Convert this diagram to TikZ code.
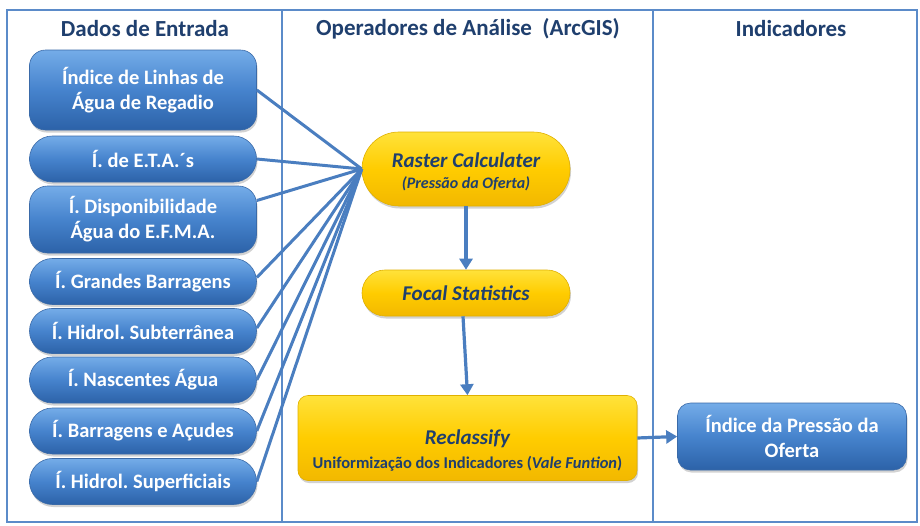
\documentclass[tikz,border=0pt]{standalone}
\usepackage{fontspec}
\setmainfont{Carlito}
\frenchspacing
\usetikzlibrary{shadows,arrows.meta}
\definecolor{frameblue}{HTML}{5B8BC9}
\definecolor{linkblue}{HTML}{4A7EC0}
\definecolor{navy}{HTML}{1F3F6E}
\definecolor{btop}{HTML}{74ACE8}
\definecolor{bmid}{HTML}{4683CD}
\definecolor{bbot}{HTML}{2C62A8}
\definecolor{bdraw}{HTML}{3A6AA8}
\definecolor{ytop}{HTML}{FFE23A}
\definecolor{ymid}{HTML}{FFCC00}
\definecolor{ybot}{HTML}{F2B800}
\definecolor{ydraw}{HTML}{E0B000}
\tikzset{
  inbox/.style={draw=bdraw, line width=0.6pt, top color=btop, bottom color=bbot, middle color=bmid,
    text=white, font=\bfseries\fontsize{20.5}{25}\selectfont, align=center, inner sep=0pt,
    minimum width=227pt, drop shadow={shadow xshift=1pt, shadow yshift=-2.5pt, opacity=0.35}},
  opbox/.style={draw=ydraw, line width=0.6pt, top color=ytop, bottom color=ybot, middle color=ymid,
    text=navy, align=center, inner sep=0pt, minimum width=208pt,
    drop shadow={shadow xshift=1pt, shadow yshift=-2.5pt, opacity=0.35}},
  optext/.style={text=navy, inner sep=0pt},
  header/.style={text=navy, font=\bfseries\fontsize{23}{27}\selectfont},
  link/.style={draw=linkblue, line width=3pt},
  flow/.style={draw=linkblue, line width=3.2pt, -{Triangle[length=11pt,width=13pt]}},
  framel/.style={draw=frameblue, line width=1.4pt}
}
\begin{document}
\begin{tikzpicture}[x=1pt,y=-1pt]
\useasboundingbox (0,0) rectangle (920,525);
\fill[white] (0,0) rectangle (920,525);
% frame
\draw[framel] (7,10) rectangle (917,522);
\draw[framel] (282,10) -- (282,522);
\draw[framel] (653,10) -- (653,522);
% headers
\node[header] (h1) at (145,29) {Dados de Entrada};
\node[header] (h2) at (468,29) {Operadores de Análise\ \ (ArcGIS)};
\node[header] (h3) at (791,29) {Indicadores};
% input boxes
\node[inbox, minimum height=80pt, rounded corners=16pt] (b1) at (143,90) {Índice de Linhas de\\Água de Regadio};
\node[inbox, minimum height=46pt, rounded corners=22.9pt] (b2) at (143,159) {Í. de E.T.A.´s};
\node[inbox, minimum height=67pt, rounded corners=18pt] (b3) at (143,219.5) {Í. Disponibilidade\\Água do E.F.M.A.};
\node[inbox, minimum height=46pt, rounded corners=22.9pt] (b4) at (143,281.5) {Í. Grandes Barragens};
\node[inbox, minimum height=45pt, rounded corners=22.4pt] (b5) at (143,331) {Í. Hidrol. Subterrânea};
\node[inbox, minimum height=46pt, rounded corners=22.9pt] (b6) at (143,380) {Í. Nascentes Água};
\node[inbox, minimum height=46pt, rounded corners=22.9pt] (b7) at (143,431) {Í. Barragens e Açudes};
\node[inbox, minimum height=46pt, rounded corners=22.9pt] (b8) at (143,481.5) {Í. Hidrol. Superficiais};
% operator boxes
\node[opbox, minimum height=74pt, rounded corners=36.9pt] (rc) at (466,169) {};
\node[optext, font=\bfseries\itshape\fontsize{21}{24}\selectfont] (rct) at (466,160) {Raster Calculater};
\node[optext, font=\bfseries\itshape\fontsize{16}{18}\selectfont] (rcs) at (466,183.5) {(Pressão da Oferta)};
\node[opbox, minimum height=46pt, rounded corners=22.9pt] (fs) at (466,293)
  {\bfseries\itshape\fontsize{21}{24}\selectfont Focal Statistics};
\node[opbox, minimum width=339pt, minimum height=85pt, rounded corners=10pt] (rf) at (467.5,438) {};
\node[optext, font=\bfseries\itshape\fontsize{21}{24}\selectfont] (rft) at (467.5,439) {Reclassify};
\node[optext, font=\bfseries\fontsize{16.5}{19}\selectfont] (rfs) at (467.5,463.5) {Uniformização dos Indicadores (\textit{Vale Funtion})};
% output
\node[inbox, minimum width=229pt, minimum height=67pt, rounded corners=13pt] (out) at (792,436.5) {Índice da Pressão da\\Oferta};
% links
\draw[link] (b1.east) -- (rc.west);
\draw[link] (b2.east) -- (rc.west);
\draw[link] ([yshift=19pt]b3.east) -- (rc.west);
\draw[link] ([yshift=4pt]b4.east) -- (rc.west);
\draw[link] ([yshift=3pt]b5.east) -- (rc.west);
\draw[link] (b6.east) -- (rc.west);
\draw[link] (b7.east) -- (rc.west);
\draw[link] (b8.east) -- (rc.west);
% flow
\draw[flow] (rc.south) -- (fs.north);
\draw[flow] ([xshift=-3pt]fs.south) -- (rf.north);
\draw[flow] (rf.east) -- (out.west);
\end{tikzpicture}
\end{document}
